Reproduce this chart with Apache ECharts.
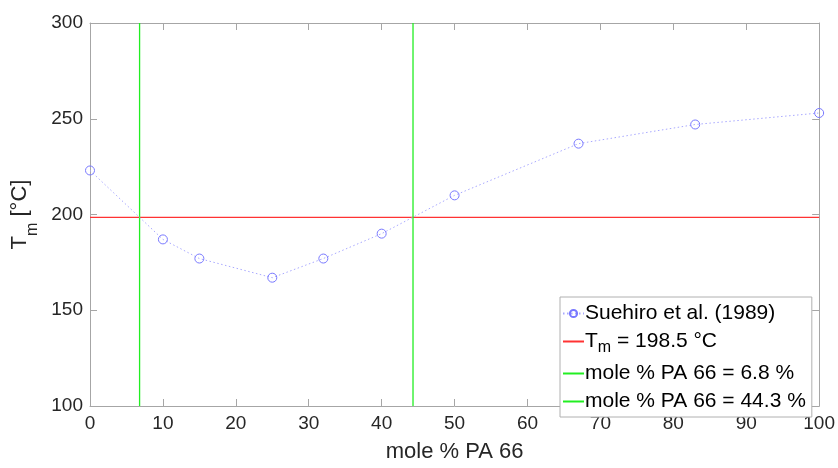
<!DOCTYPE html>
<html><head><meta charset="utf-8">
<script src="https://cdn.jsdelivr.net/npm/echarts@6/dist/echarts.min.js"></script>
<style>html,body{margin:0;padding:0;background:#fff}#c{width:838px;height:468px}</style>
</head><body><div id="c"></div>
<script>
const molePA66 = [0, 10, 15, 25, 32, 40, 50, 67, 83, 100];
const tmSuehiro = [223, 187, 177, 167, 177, 190, 210, 237, 247, 253];
const tmLevel = 198.5;
const crossings = [6.8, 44.3];
const xTicks = [0, 10, 20, 30, 40, 50, 60, 70, 80, 90, 100];
const yTicks = [100, 150, 200, 250, 300];

const FONT = '"Liberation Sans", Arial, Helvetica, sans-serif';
const axisCol = '#a6a6a6';
const txtCol = '#262626';
const redCol = '#ff3333';
const greenCol = '#22ee22';

const chart = echarts.init(document.getElementById('c'));
const xMin = xTicks[0], xMax = xTicks[xTicks.length-1];
const yMin = yTicks[0], yMax = yTicks[yTicks.length-1];

function baseAxis(extra){
  return Object.assign({
    axisLine:{show:true,onZero:false,lineStyle:{color:axisCol,width:1}},
    axisTick:{show:true,inside:true,length:7,lineStyle:{color:axisCol}},
    splitLine:{show:false}
  }, extra);
}
const hiddenMark = {color:'rgba(0,0,0,0)',borderColor:'rgba(0,0,0,0)',borderWidth:0};
const nameSue = 'Suehiro et al. (1989)';
const nameTm = 'T_m';
const nameC1 = 'mole % PA 66 = '+crossings[0]+' %';
const nameC2 = 'mole % PA 66 = '+crossings[1]+' %';

const option = {
  animation:false,
  textStyle:{fontFamily:FONT},
  grid:{left:90,right:18,top:23,bottom:57,containLabel:false},
  xAxis:[
    baseAxis({type:'value',min:xMin,max:xMax,interval:10,position:'bottom',
      name:'mole % PA 66',nameLocation:'middle',nameGap:35,
      nameTextStyle:{fontSize:22,color:txtCol,fontFamily:FONT},
      axisLabel:{fontSize:19,color:txtCol,margin:8,fontFamily:FONT}}),
    baseAxis({type:'value',min:xMin,max:xMax,interval:10,position:'top',axisLabel:{show:false}})
  ],
  yAxis:[
    baseAxis({type:'value',min:yMin,max:yMax,interval:50,position:'left',
      name:'{a|T}{s|m}{a| [°C]}',nameLocation:'middle',nameGap:48,nameRotate:90,
      nameTextStyle:{color:txtCol,fontFamily:FONT,
        rich:{a:{fontSize:22,color:txtCol,fontFamily:FONT},
              s:{fontSize:16,color:txtCol,fontFamily:FONT,verticalAlign:'bottom',padding:[0,0,-9,0]}}},
      axisLabel:{fontSize:19,color:txtCol,margin:7,fontFamily:FONT}}),
    baseAxis({type:'value',min:yMin,max:yMax,interval:50,position:'right',axisLabel:{show:false}})
  ],
  legend:{
    orient:'vertical',left:560,top:297,
    backgroundColor:'#fff',borderColor:'#b0b0b0',borderWidth:1,borderRadius:0,
    padding:[6,6,5,2],itemGap:7,itemWidth:21,itemHeight:9,
    textStyle:{fontSize:21,color:'#000',fontFamily:FONT,padding:[0,0,0,-4],
      rich:{a:{fontSize:21,color:'#000',fontFamily:FONT},
            s:{fontSize:16,color:'#000',fontFamily:FONT,padding:[0,0,-13,0]}}},
    formatter:function(n){
      if(n===nameTm){return '{a|T}{s|m}{a| = '+tmLevel+' °C}';}
      return n;
    },
    data:[
      {name:nameSue},
      {name:nameTm,itemStyle:hiddenMark},
      {name:nameC1,itemStyle:hiddenMark},
      {name:nameC2,itemStyle:hiddenMark}
    ]
  },
  series:[
    {name:nameTm,type:'line',symbol:'none',z:3,
      lineStyle:{color:redCol,width:1.3},itemStyle:{color:redCol},
      data:[[xMin,tmLevel],[xMax,tmLevel]]},
    {name:nameC1,type:'line',symbol:'none',z:3,
      lineStyle:{color:greenCol,width:1.3},itemStyle:{color:greenCol},
      data:[[crossings[0],yMin],[crossings[0],yMax]]},
    {name:nameC2,type:'line',symbol:'none',z:3,
      lineStyle:{color:greenCol,width:1.3},itemStyle:{color:greenCol},
      data:[[crossings[1],yMin],[crossings[1],yMax]]},
    {name:nameSue,type:'line',z:4,
      symbol:'circle',symbolSize:9,showAllSymbol:true,
      lineStyle:{color:'#a8a8ff',width:1,type:[1.5,2.5]},
      itemStyle:{color:'rgba(255,255,255,0)',borderColor:'#7878ff',borderWidth:1},
      data:molePA66.map((x,i)=>[x,tmSuehiro[i]])}
  ]
};
chart.setOption(option);
</script></body></html>
